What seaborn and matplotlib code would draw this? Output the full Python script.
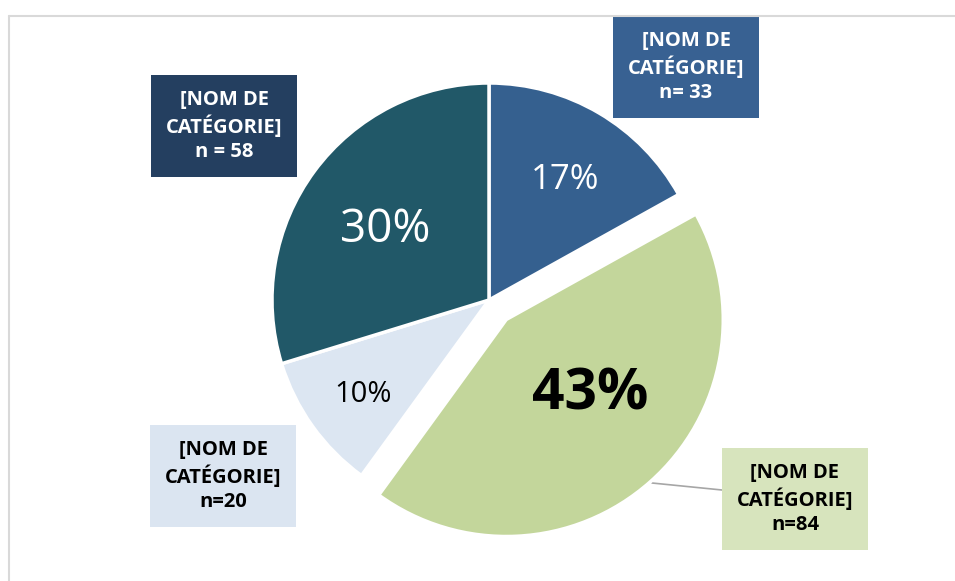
"""
Pie chart: share of respondents by category (4 categories, one exploded)
"""
import matplotlib
matplotlib.use("Agg")
import matplotlib.pyplot as plt
from matplotlib.lines import Line2D
import seaborn as sns

# Data
categories = ["[NOM DE\nCATÉGORIE]", "[NOM DE\nCATÉGORIE]", "[NOM DE\nCATÉGORIE]", "[NOM DE\nCATÉGORIE]"]
counts = [33, 84, 20, 58]
n_labels = ["n= 33", "n=84", "n=20", "n = 58"]
slice_colors = ["#35608F", "#C3D69B", "#DCE6F2", "#215868"]
box_colors = ["#386192", "#D7E4BD", "#DBE5F1", "#243F60"]
text_colors = ["white", "black", "black", "white"]
explode = [0, 0.12, 0, 0]

sns.set_theme(style="white")
plt.rcParams["font.family"] = ["Open Sans", "DejaVu Sans"]

W, H = 955, 581
CX, CY, R = 489, 300, 217


def px(x, y):
    # pixel position -> data coords (pie radius = 1)
    return (x - CX) / R, (CY - y) / R


fig = plt.figure(figsize=(W / 100, H / 100), dpi=100)
ax = fig.add_axes([0, 0, 1, 1])

wedges, _ = ax.pie(
    counts,
    colors=slice_colors,
    startangle=90,
    counterclock=False,
    explode=explode,
    radius=1,
    center=(0, 0),
    wedgeprops=dict(edgecolor="white", linewidth=2.5),
)

ax.set_xlim(-CX / R, (W - CX) / R)
ax.set_ylim((CY - H) / R, CY / R)
ax.set_aspect("equal")
ax.axis("off")

# percentage labels inside the slices
total = sum(counts)
pct_pos = [(565, 180), (590, 395), (363, 395), (385, 230)]
pct_size = [25, 41, 21, 33]
pct_weight = ["normal", "bold", "normal", "normal"]
for i, c in enumerate(counts):
    x, y = px(*pct_pos[i])
    ax.text(x, y, f"{round(100 * c / total)}%", ha="center", va="center",
            fontsize=pct_size[i], fontweight=pct_weight[i], color=text_colors[i])

# category label boxes
box_pos = [(686, 67), (795, 499), (223, 476), (224, 126)]
for i, cat in enumerate(categories):
    x, y = px(*box_pos[i])
    ax.text(x, y, f"{cat}\n{n_labels[i]}", ha="center", va="center",
            fontsize=14.5, fontweight="bold", color=text_colors[i],
            linespacing=1.3,
            bbox=dict(boxstyle="square,pad=0.75", facecolor=box_colors[i], edgecolor="none"))

# leader line for the exploded slice
x0, y0 = px(652, 483)
x1, y1 = px(722, 490)
ax.plot([x0, x1], [y0, y1], color="#A6A6A6", lw=1.2, zorder=0)

# light frame (top and left edges visible)
fig.add_artist(Line2D([9 / W, 1], [1 - 16 / H, 1 - 16 / H], color="#D9D9D9", lw=1.5))
fig.add_artist(Line2D([9 / W, 9 / W], [0, 1 - 16 / H], color="#D9D9D9", lw=1.5))

fig.savefig("out.png", dpi=100)
